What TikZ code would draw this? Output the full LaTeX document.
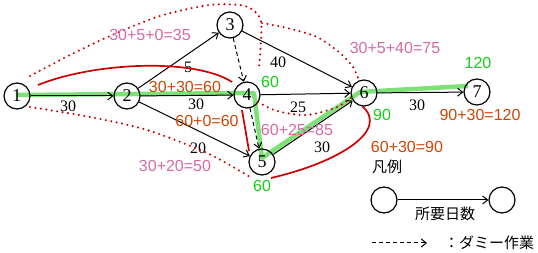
\documentclass[tikz,border=0pt]{standalone}
\usepackage{fontspec}
\setmainfont{Liberation Serif}
\setsansfont{Liberation Sans}
\newfontfamily\jpfont{Noto Sans CJK JP}
\definecolor{pathgreen}{RGB}{125,225,120}
\definecolor{textgreen}{RGB}{20,205,20}
\definecolor{sumpink}{RGB}{215,105,165}
\definecolor{sumorange}{RGB}{205,70,5}
\definecolor{linered}{RGB}{205,0,0}
\usetikzlibrary{arrows.meta}

\begin{document}
\begin{tikzpicture}[x=1pt,y=-1pt,
      nd/.style={circle,draw,line width=1.2pt,minimum size=26pt,inner sep=0pt,
                 font=\fontsize{18}{18}\selectfont},
      ar/.style={-{Straight Barb[length=5pt,width=8pt]},line width=1pt},
      dm/.style={ar,dash pattern=on 4pt off 3pt},
      lb/.style={font=\fontsize{16}{16}\selectfont},
      es/.style={font=\sffamily\fontsize{16}{16}\selectfont,text=sumpink},
      ef/.style={font=\sffamily\fontsize{16}{16}\selectfont,text=sumorange},
      cp/.style={font=\sffamily\fontsize{16}{16}\selectfont,text=textgreen},
      jp/.style={font=\jpfont\fontsize{15}{15}\selectfont},
      rd/.style={draw=linered,line width=1.7pt},
      dt/.style={draw=linered,line width=2.3pt,line cap=round,
                 dash pattern=on 0pt off 5.5pt}]
  \useasboundingbox (0,0) rectangle (538,253);
  % critical path
  \draw[pathgreen,line width=4.5pt,line join=round]
    (17,95) -- (254,93) -- (262,158) -- (360,92) -- (468,86);
  % events
  \node[nd] (n1) at (17,96) {1};
  \node[nd] (n2) at (127,96) {2};
  \node[nd] (n3) at (230,25) {3};
  \node[nd] (n4) at (247,95) {4};
  \node[nd] (n5) at (262,162) {5};
  \node[nd] (n6) at (364,93) {6};
  \node[nd] (n7) at (477,92) {7};
  % activities
  \draw[ar] (n1) -- (n2);
  \draw[ar] (n2) -- (n3);
  \draw[ar] (n2) -- (n4);
  \draw[ar] (n2) -- (n5);
  \draw[ar] (n3) -- (n6);
  \draw[ar] (n4) -- (n6);
  \draw[ar] (n5) -- (n6);
  \draw[ar] (n6) -- (n7);
  \draw[dm] (n3) -- (n4);
  \draw[dm] (n4) -- (n5);
  \node[lb] (d12) at (68,106) {30};
  \node[lb] (d23) at (188,67) {5};
  \node[lb] (d24) at (196,104) {30};
  \node[lb] (d25) at (198,148) {20};
  \node[lb] (d36) at (278,62) {40};
  \node[lb] (d46) at (298,107) {25};
  \node[lb] (d56) at (322,147) {30};
  \node[lb] (d67) at (417,105) {30};
  % red brackets
  \draw[rd] (38,85) .. controls (95,62) and (195,58) .. (232,82);
  \draw[rd] (242,110) -- (249,151);
  \draw[rd] (271,178) .. controls (340,162) and (390,130) .. (362,106);
  % dotted routes
  \draw[dt] plot[smooth] coordinates {(30,76) (70,55) (110,36) (160,16)
    (210,5) (245,6) (260,18) (261,40) (259,67)};
  \draw[dt] plot[smooth] coordinates {(262,23) (287,28) (317,37) (340,53)
    (353,67) (358,78)};
  \draw[dt] plot[smooth] coordinates {(30,107) (90,117) (147,130)
    (207,153) (250,177)};
  \draw[dt] plot[smooth] coordinates {(258,102) (277,111) (307,115)
    (337,107) (352,97)};
  % sums
  \node[es] (s35) at (150,35) {30+5+0=35};
  \node[ef] (s60a) at (185,87) {30+30=60};
  \node[ef] (s60b) at (207,121) {60+0=60};
  \node[es] (s75) at (395,48) {30+5+40=75};
  \node[es] (s85) at (297,130) {60+25=85};
  \node[es] (s50) at (175,166) {30+20=50};
  \node[ef] (s90) at (407,147) {60+30=90};
  \node[ef] (s120) at (480,115) {90+30=120};
  \node[cp] (t4) at (270,82) {60};
  \node[cp] (t5) at (262,186) {60};
  \node[cp] (t6) at (382,115) {90};
  \node[cp] (t7) at (478,63) {120};
  % legend
  \node[jp] (lg) at (387,167) {凡例};
  \node[nd] (la) at (384,200) {};
  \node[nd] (lz) at (502,200) {};
  \draw[ar] (la) -- (lz);
  \node[jp] (lt) at (445,214) {所要日数};
  \coordinate (da) at (372,243);
  \coordinate (db) at (427,243);
  \draw[dm] (da) -- (db);
  \node[jp] (dmt) at (489,243) {：ダミー作業};
\end{tikzpicture}
\end{document}
